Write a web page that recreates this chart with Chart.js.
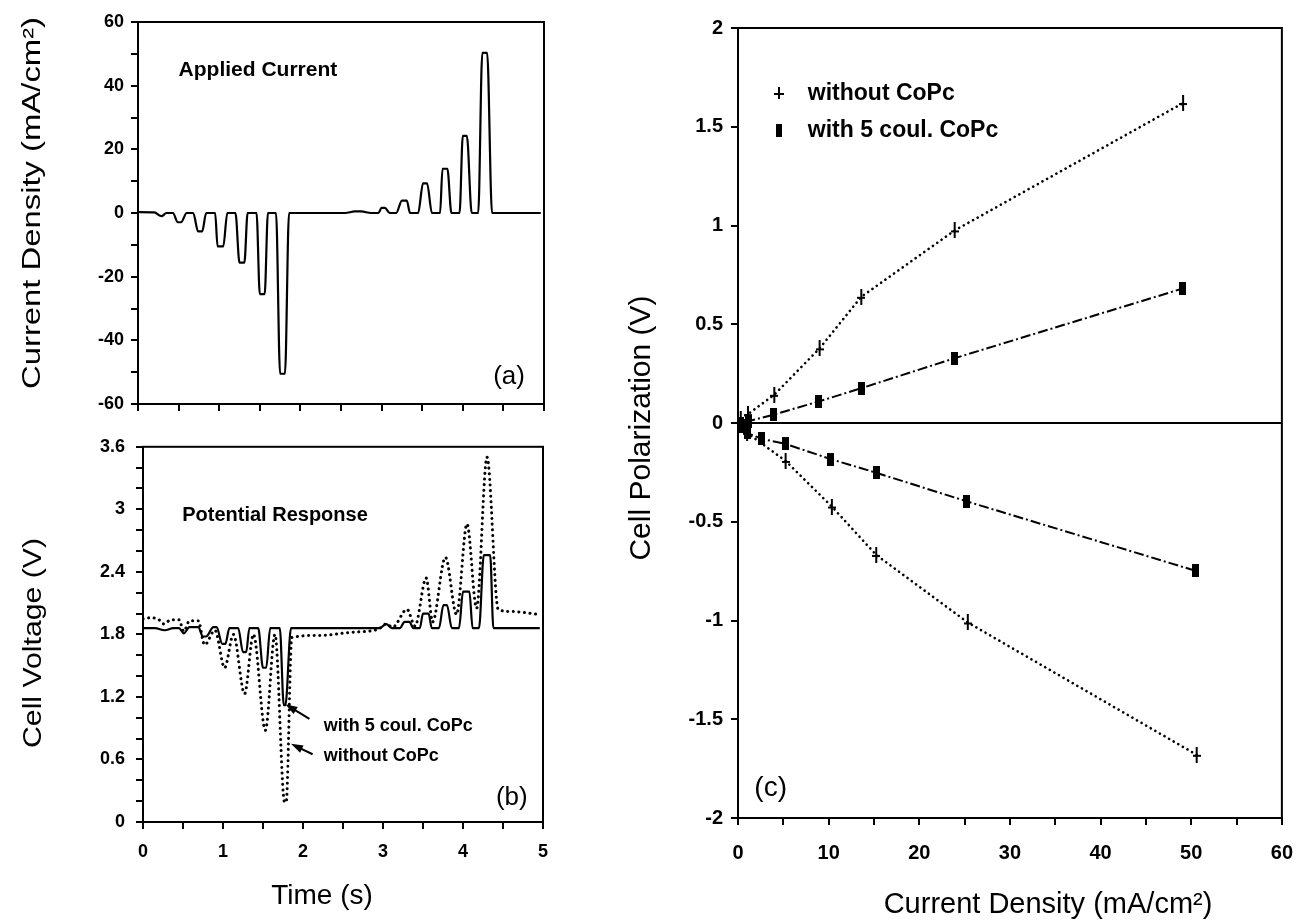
<!DOCTYPE html>
<html><head><meta charset="utf-8">
<script src="https://cdn.jsdelivr.net/npm/chart.js@4.4.1/dist/chart.umd.min.js"></script>
<style>
html,body{margin:0;padding:0;background:#fff;}
#wrap{position:relative;width:1309px;height:921px;overflow:hidden;background:#fff;}
canvas{position:absolute;}
</style></head><body>
<div id="wrap">
<canvas id="ca" width="580" height="425" style="left:0px;top:0px"></canvas>
<canvas id="cb" width="580" height="496" style="left:0px;top:425px"></canvas>
<canvas id="cc" width="729" height="921" style="left:580px;top:0px"></canvas>
</div>
<script>
// ---------- DATA ----------
// (a) applied current
const aTime = [0, 0.2, 0.29, 0.35, 0.43, 0.49, 0.53, 0.6, 0.68, 0.74, 0.79, 0.84, 0.95, 0.98, 1.05, 1.1, 1.2, 1.25, 1.31, 1.35, 1.46, 1.5, 1.56, 1.6, 1.7, 1.75, 1.81, 1.86, 2.55, 2.67, 2.75, 2.87, 2.96, 3.0, 3.04, 3.1, 3.18, 3.25, 3.31, 3.35, 3.45, 3.51, 3.56, 3.62, 3.72, 3.75, 3.81, 3.86, 3.96, 4.0, 4.05, 4.11, 4.19, 4.24, 4.30, 4.36, 4.96];
const aCurrent = [0.3, 0.2, -1.0, 0, 0, -2.9, -2.9, 0, 0, -5.8, -5.8, 0, 0, -10.5, -10.5, 0, 0, -15.6, -15.6, 0, 0, -25.5, -25.5, 0, 0, -50.5, -50.5, 0, 0, 0.5, 0.5, 0, 0, 1.6, 1.6, 0, 0, 3.9, 3.9, 0, 0, 9.3, 9.3, 0, 0, 13.9, 13.9, 0, 0, 24.2, 24.2, 0, 0, 50.3, 50.3, 0, 0];
const aYTicks = ['-60', '-40', '-20', '0', '20', '40', '60'];

// (b) potential response
const bWithTime = [0, 0.15, 0.27, 0.38, 0.45, 0.51, 0.58, 0.69, 0.75, 0.79, 0.88, 0.92, 0.99, 1.03, 1.08, 1.19, 1.25, 1.29, 1.33, 1.44, 1.5, 1.54, 1.59, 1.71, 1.76, 1.78, 1.85, 2.96, 3.04, 3.11, 3.21, 3.27, 3.33, 3.38, 3.46, 3.5, 3.57, 3.61, 3.70, 3.755, 3.80, 3.86, 3.95, 4.0, 4.08, 4.12, 4.2, 4.26, 4.34, 4.38, 4.96];
const bWithVolt = [1.86, 1.86, 1.84, 1.86, 1.86, 1.81, 1.87, 1.87, 1.78, 1.78, 1.87, 1.87, 1.71, 1.71, 1.86, 1.86, 1.63, 1.63, 1.86, 1.86, 1.48, 1.48, 1.86, 1.86, 1.12, 1.12, 1.86, 1.86, 1.90, 1.86, 1.86, 1.92, 1.92, 1.86, 1.86, 2.0, 2.0, 1.86, 1.86, 2.08, 2.08, 1.86, 1.86, 2.21, 2.21, 1.86, 1.86, 2.56, 2.56, 1.86, 1.86];
const bWithoutTime = [0, 0.1, 0.2, 0.26, 0.35, 0.45, 0.51, 0.58, 0.69, 0.77, 0.9, 1.02, 1.13, 1.27, 1.38, 1.53, 1.65, 1.77, 1.79, 1.86, 2.2, 2.6, 2.94, 3.04, 3.12, 3.30, 3.40, 3.54, 3.62, 3.78, 3.92, 4.05, 4.17, 4.30, 4.44, 4.6, 4.96];
const bWithoutVolt = [1.95, 1.96, 1.94, 1.90, 1.94, 1.94, 1.83, 1.93, 1.93, 1.70, 1.84, 1.48, 1.80, 1.23, 1.80, 0.88, 1.80, 0.19, 0.19, 1.77, 1.79, 1.82, 1.85, 1.90, 1.87, 2.04, 1.88, 2.34, 1.92, 2.54, 1.99, 2.86, 2.05, 3.50, 2.04, 2.02, 1.99];
const bYTicks = ['0', '0.6', '1.2', '1.8', '2.4', '3', '3.6'];
const bXTicks = ['0', '1', '2', '3', '4', '5'];
const bNotes = ['with 5 coul. CoPc', 'without CoPc'];

// (c) polarization
const cSeriesNames = ['without CoPc', 'with 5 coul. CoPc'];
const cWithoutX = [50.6, 25.35, 15.25, 10.35, 5.25, 1.0, 0.3, 1.1, 4.0, 9.0, 13.6, 23.9, 49.1];
const cWithoutY = [-1.68, -1.01, -0.668, -0.423, -0.192, -0.05, 0.02, 0.045, 0.143, 0.378, 0.639, 0.975, 1.62];
const cWithX = [50.45, 25.25, 15.25, 10.25, 5.25, 2.6, 1.0, 0.4, 0.3, 1.2, 3.9, 8.9, 13.6, 23.9, 49.0];
const cWithY = [-0.748, -0.397, -0.252, -0.183, -0.106, -0.08, -0.05, -0.02, 0.0, 0.01, 0.042, 0.109, 0.176, 0.328, 0.68];
const cYTicks = ['-2', '-1.5', '-1', '-0.5', '0', '0.5', '1', '1.5', '2'];
const cXTicks = ['0', '10', '20', '30', '40', '50', '60'];

// ---------- HELPERS ----------
const FAM = 'Liberation Sans, Arial, Helvetica, sans-serif';
Chart.defaults.font.family = FAM;
Chart.defaults.color = '#000';

function pts(xs, ys) { return xs.map((x, i) => ({x: x, y: ys[i]})); }
function labelFrom(list) {
  return function (v) {
    const s = list.find(l => Math.abs(parseFloat(l) - v) < 1e-6);
    return s === undefined ? '' : s;
  };
}
function axis(o) {
  return {
    type: 'linear', min: o.min, max: o.max,
    ticks: {stepSize: o.step, autoSkip: false, maxRotation: 0, minRotation: 0, color: '#000',
      font: {family: FAM, size: o.fs, weight: 'bold'}, padding: o.pad, callback: o.cb},
    grid: {drawOnChartArea: !!o.zeroLine, drawTicks: true, tickLength: 7, tickWidth: 2, tickColor: '#000',
      color: o.zeroLine ? (c => (c.tick && Math.abs(c.tick.value) < 1e-9) ? '#000' : 'rgba(0,0,0,0)') : '#000',
      lineWidth: 2},
    border: {display: true, color: '#000', width: 2},
    afterFit: s => { if (o.h !== undefined) s.height = o.h; if (o.w !== undefined) s.width = o.w; }
  };
}
function makePlus(w, h, lw) {
  const c = document.createElement('canvas'); c.width = w; c.height = h;
  const g = c.getContext('2d'); g.fillStyle = '#000';
  g.fillRect((w - lw) / 2, 0, lw, h); g.fillRect(0, (h - lw) / 2 + 1, w, lw);
  return c;
}
function makeRect(w, h) {
  const c = document.createElement('canvas'); c.width = w; c.height = h;
  const g = c.getContext('2d'); g.fillStyle = '#000'; g.fillRect(0, 0, w, h);
  return c;
}
function overlay(titles, notes) {
  return {
    id: 'overlay',
    afterDraw(chart) {
      const ctx = chart.ctx, a = chart.chartArea, sx = chart.scales.x, sy = chart.scales.y;
      ctx.save();
      ctx.strokeStyle = '#000'; ctx.lineWidth = 2;
      ctx.strokeRect(a.left, a.top, a.right - a.left, a.bottom - a.top);
      ctx.fillStyle = '#000';
      (notes || []).forEach(n => {
        if (n.type === 'text') {
          ctx.font = n.font; ctx.textAlign = n.align || 'left'; ctx.textBaseline = 'middle';
          ctx.fillText(n.text, sx.getPixelForValue(n.x), sy.getPixelForValue(n.y));
        } else if (n.type === 'arrow') {
          const x1 = sx.getPixelForValue(n.x1), y1 = sy.getPixelForValue(n.y1);
          const x2 = sx.getPixelForValue(n.x2), y2 = sy.getPixelForValue(n.y2);
          const ang = Math.atan2(y2 - y1, x2 - x1);
          ctx.lineWidth = 2;
          ctx.beginPath(); ctx.moveTo(x1, y1);
          ctx.lineTo(x2 - 8 * Math.cos(ang), y2 - 8 * Math.sin(ang)); ctx.stroke();
          ctx.beginPath(); ctx.moveTo(x2, y2);
          ctx.lineTo(x2 - 12 * Math.cos(ang) + 4 * Math.sin(ang), y2 - 12 * Math.sin(ang) - 4 * Math.cos(ang));
          ctx.lineTo(x2 - 12 * Math.cos(ang) - 4 * Math.sin(ang), y2 - 12 * Math.sin(ang) + 4 * Math.cos(ang));
          ctx.closePath(); ctx.fill();
        } else if (n.type === 'marker') {
          const px = sx.getPixelForValue(n.x), py = sy.getPixelForValue(n.y);
          ctx.drawImage(n.img, Math.round(px - n.img.width / 2), Math.round(py - n.img.height / 2));
        }
      });
      (titles || []).forEach(t => {
        ctx.save();
        ctx.font = t.font; ctx.textAlign = 'center'; ctx.textBaseline = 'middle';
        ctx.translate(t.x, t.y);
        if (t.rotate) ctx.rotate(-Math.PI / 2);
        if (t.length) { const w = ctx.measureText(t.text).width; ctx.scale(t.length / w, 1); }
        ctx.fillText(t.text, 0, 0);
        ctx.restore();
      });
      ctx.restore();
    }
  };
}
const base = {responsive: false, animation: false, events: [],
  plugins: {legend: {display: false}, tooltip: {enabled: false}}};

// ---------- (a) ----------
new Chart(document.getElementById('ca'), {
  type: 'line',
  data: {datasets: [{data: pts(aTime, aCurrent), borderColor: '#000', borderWidth: 2.2, pointRadius: 0,
    fill: false, cubicInterpolationMode: 'monotone', tension: 0.3}]},
  options: Object.assign({}, base, {
    layout: {padding: {left: 0, top: 22, right: 36, bottom: 11}},
    scales: {
      x: axis({min: 0, max: 5, step: 0.5, fs: 18, pad: 4, cb: () => '', h: 10}),
      y: axis({min: -60, max: 60, step: 10, fs: 18, pad: 7, cb: labelFrom(aYTicks), w: 138})
    }
  }),
  plugins: [overlay(
    [{text: 'Current Density (mA/cm²)', x: 33, y: 203, rotate: true, font: '26px ' + FAM, length: 372}],
    [{type: 'text', text: 'Applied Current', x: 0.5, y: 45, font: 'bold 21px ' + FAM},
     {type: 'text', text: '(a)', x: 4.57, y: -51.5, align: 'center', font: '26px ' + FAM}]
  )]
});

// ---------- (b) ----------
new Chart(document.getElementById('cb'), {
  type: 'line',
  data: {datasets: [
    {data: pts(bWithTime, bWithVolt), borderColor: '#000', borderWidth: 2.2, pointRadius: 0, fill: false,
      cubicInterpolationMode: 'monotone', tension: 0.3},
    {data: pts(bWithoutTime, bWithoutVolt), borderColor: '#000', borderWidth: 3, pointRadius: 0, fill: false,
      borderDash: [0.1, 5.5], borderCapStyle: 'round', cubicInterpolationMode: 'monotone', tension: 0.3}
  ]},
  options: Object.assign({}, base, {
    layout: {padding: {left: 0, top: 19, right: 37, bottom: 9}},
    scales: {
      x: axis({min: 0, max: 5, step: 0.5, fs: 18, pad: 12, cb: labelFrom(bXTicks), h: 90}),
      y: axis({min: 0, max: 3.6, step: 0.2, fs: 18, pad: 11, cb: labelFrom(bYTicks), w: 143})
    }
  }),
  plugins: [overlay(
    [{text: 'Cell Voltage (V)', x: 34, y: 218, rotate: true, font: '26px ' + FAM, length: 210},
     {text: 'Time (s)', x: 322, y: 471, font: '28px ' + FAM}],
    [{type: 'text', text: 'Potential Response', x: 0.49, y: 2.94, font: 'bold 20px ' + FAM},
     {type: 'text', text: '(b)', x: 4.61, y: 0.23, align: 'center', font: '26px ' + FAM},
     {type: 'text', text: bNotes[0], x: 2.26, y: 0.92, font: 'bold 18px ' + FAM},
     {type: 'text', text: bNotes[1], x: 2.26, y: 0.63, font: 'bold 18px ' + FAM},
     {type: 'arrow', x1: 2.08, y1: 0.99, x2: 1.78, y2: 1.13},
     {type: 'arrow', x1: 2.12, y1: 0.65, x2: 1.85, y2: 0.75}]
  )]
});

// ---------- (c) ----------
const plusMark = makePlus(8, 16, 2);
const rectMark = makeRect(7, 13);
const plusLegend = makePlus(10, 12, 2);
const rectLegend = makeRect(6, 13);
new Chart(document.getElementById('cc'), {
  type: 'scatter',
  data: {datasets: [
    {label: cSeriesNames[0], data: pts(cWithoutX, cWithoutY), showLine: true, borderColor: '#000', borderWidth: 2.6,
      borderDash: [0.1, 5.2], borderCapStyle: 'round', pointStyle: plusMark, pointRadius: 6},
    {label: cSeriesNames[1], data: pts(cWithX, cWithY), showLine: true, borderColor: '#000', borderWidth: 2,
      borderDash: [10, 3, 2, 3], pointStyle: rectMark, pointRadius: 6}
  ]},
  options: Object.assign({}, base, {
    layout: {padding: {left: 0, top: 28, right: 14, bottom: 43}},
    scales: {
      x: axis({min: 0, max: 60, step: 5, fs: 20, pad: 16, cb: labelFrom(cXTicks), h: 60}),
      y: axis({min: -2, max: 2, step: 0.5, fs: 20, pad: 8, cb: labelFrom(cYTicks), w: 158, zeroLine: true})
    }
  }),
  plugins: [overlay(
    [{text: 'Cell Polarization (V)', x: 62, y: 428, rotate: true, font: '30px ' + FAM},
     {text: 'Current Density (mA/cm²)', x: 468, y: 905, font: '29px ' + FAM}],
    [{type: 'marker', img: plusLegend, x: 4.5, y: 1.67},
     {type: 'marker', img: rectLegend, x: 4.5, y: 1.48},
     {type: 'text', text: cSeriesNames[0], x: 7.7, y: 1.67, font: 'bold 23px ' + FAM},
     {type: 'text', text: cSeriesNames[1], x: 7.7, y: 1.48, font: 'bold 23px ' + FAM},
     {type: 'text', text: '(c)', x: 3.6, y: -1.85, align: 'center', font: '28px ' + FAM}]
  )]
});
</script>
</body></html>
